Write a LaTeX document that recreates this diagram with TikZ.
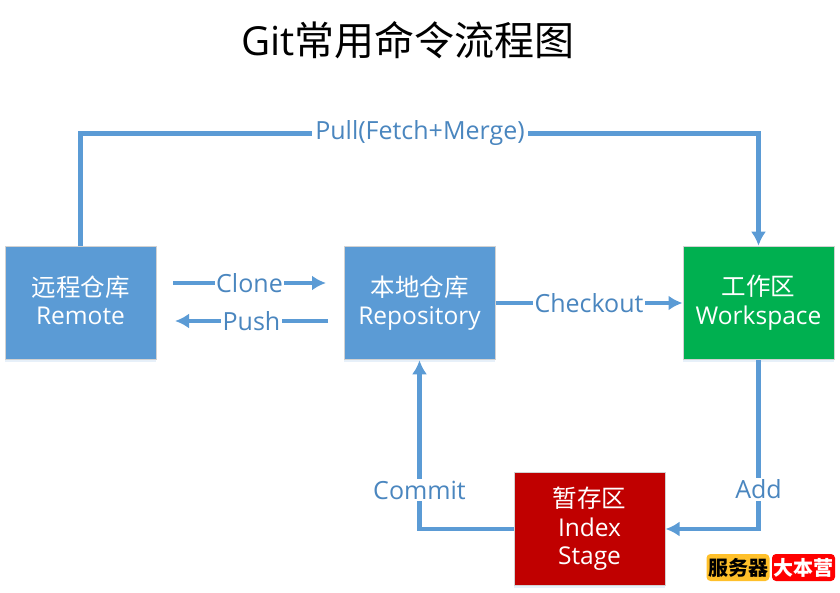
\documentclass[tikz,border=0pt]{standalone}
\usepackage{fontspec}
\setmainfont{Open Sans}
\newfontfamily\cjk{Noto Sans CJK SC}
\usetikzlibrary{arrows.meta,positioning,shadows}
\definecolor{flowblue}{HTML}{5B9BD5}
\definecolor{flowtext}{HTML}{4A86BF}
\definecolor{workgreen}{HTML}{00B050}
\definecolor{indexred}{HTML}{C00000}
\definecolor{badgeyellow}{HTML}{FFC02A}
\definecolor{badgered}{HTML}{FF0000}

\begin{document}
\begin{tikzpicture}[x=1pt,y=-1pt,->,>={Latex[length=14pt,width=15pt]},
  node distance=339pt,line width=4.3pt,color=flowblue,
  main node/.style={rectangle,draw=gray!35,line width=1pt,text=white,align=center,
  inner sep=0pt,minimum width=151pt,minimum height=113.5pt,text depth=6pt,
  font=\fontsize{24.5}{28.5}\selectfont,
  drop shadow={shadow xshift=0pt,shadow yshift=-2pt,opacity=.15,fill=flowblue}},
  flow label/.style={fill=white,inner sep=1.5pt,text=flowtext,font=\fontsize{25}{28}\selectfont},
  badge/.style={rectangle,rounded corners=4pt,inner sep=0pt,minimum width=63pt,
  minimum height=27pt,font=\fontsize{20}{24}\cjk\bfseries}]

  \useasboundingbox (0,0) rectangle (840,593);

  \node[text=black,font=\fontsize{40}{46}\selectfont] (title) at (408,40) {Git{\cjk 常用命令流程图}};

  \node[main node,fill=flowblue] (remote) at (80.5,303) {{\cjk 远程仓库}\\Remote};
  \node[main node,fill=flowblue] (repo) [right of=remote] {{\cjk 本地仓库}\\Repository};
  \node[main node,fill=workgreen] (work) [right of=repo] {{\cjk 工作区}\\Workspace};
  \node[main node,fill=indexred] (index) at (589.5,529) {{\cjk 暂存区}\\Index\\Stage};

  \node[flow label] (pull) at (420,133.5) {Pull(Fetch+Merge)};

  \coordinate (clonefrom) at (173,283);
  \coordinate (cloneto) at (326,283);
  \coordinate (pushfrom) at (328,321);
  \coordinate (pushto) at (175,321);

  \draw[-] (remote.north) |- (pull);
  \draw (pull) -| (work.north);

  \path[every node/.style={flow label}]
    (clonefrom) edge node (clone) {Clone} (cloneto)
    (pushfrom) edge node (push) {Push} (pushto)
    (repo) edge node (checkout) {Checkout} (work);

  \draw (work.south) |- node[flow label,pos=.383] (add) {Add} (index.east);
  \draw (index.west) -| node[flow label,pos=.615] (commit) {Commit} (repo.south);

  \node[badge,fill=badgeyellow,text=black] (server) at (738,567.5) {服务器};
  \node[badge,fill=badgered,text=white] (camp) at (803.5,567.5) {大本营};
\end{tikzpicture}
\end{document}
